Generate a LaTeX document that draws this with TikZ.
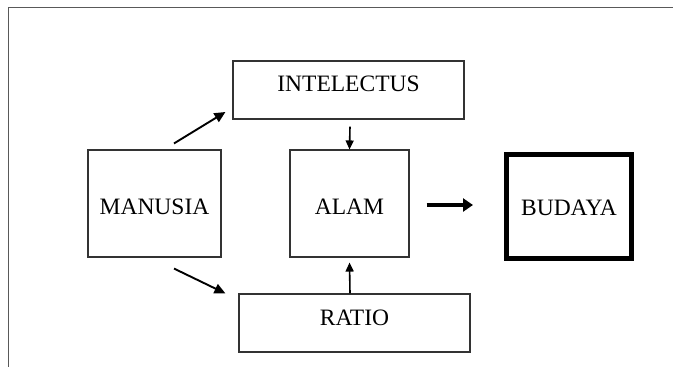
\documentclass[tikz,border=0pt]{standalone}
\usepackage{fontspec}
\setmainfont{Liberation Serif}
\usetikzlibrary{arrows.meta}
\begin{document}
\begin{tikzpicture}[x=1pt,y=-1pt,
  box/.style={draw=black!80, line width=1.1pt, rectangle, inner sep=0pt,
    font=\fontsize{23.5}{27}\selectfont, text=black},
  arr/.style={line width=1.9pt, -{Triangle[length=11pt,width=10pt]}},
  varr/.style={line width=1.6pt, -{Triangle[length=9pt,width=8pt]}},
  bigarr/.style={line width=4pt, -{Triangle[length=10pt,width=13pt]}}]
\useasboundingbox (0,0) rectangle (673,367);
\fill[white] (0,0) rectangle (673,367);
% frame
\draw[black!65, line width=1.4pt] (673,7.5) -- (8.5,7.5) -- (8.5,367);
% boxes
\node[box, minimum width=231pt, minimum height=58pt, text height=16pt, text depth=13pt] (int) at (348.5,90) {INTELECTUS};
\node[box, minimum width=133pt, minimum height=107pt, text height=21pt, text depth=0pt] (man) at (154.5,203.5) {MANUSIA};
\node[box, minimum width=119pt, minimum height=107pt, text height=21pt, text depth=0pt] (alam) at (349.5,203.5) {ALAM};
\node[box, draw=black, line width=5pt, minimum width=125pt, minimum height=104pt, text height=17pt, text depth=0pt] (bud) at (569,206.5) {BUDAYA};
\node[box, minimum width=231pt, minimum height=58pt, text height=16pt, text depth=12pt] (rat) at (354.5,323) {RATIO};
% connectors
\draw[arr] ([xshift=19.5pt,yshift=6pt]man.north) -- ([xshift=-7pt,yshift=-22pt]int.west);
\draw[arr] ([xshift=19.5pt,yshift=-11pt]man.south) -- ([xshift=-13pt]rat.north west);
\draw[varr] ([xshift=1.5pt,yshift=-7pt]int.south) -- (alam.north);
\draw[varr] ([xshift=-4.5pt]rat.north) -- ([yshift=-5pt]alam.south);
\draw[bigarr] ([xshift=17pt,yshift=-1.5pt]alam.east) -- ([xshift=-31pt,yshift=1.5pt]bud.west);
\end{tikzpicture}
\end{document}
